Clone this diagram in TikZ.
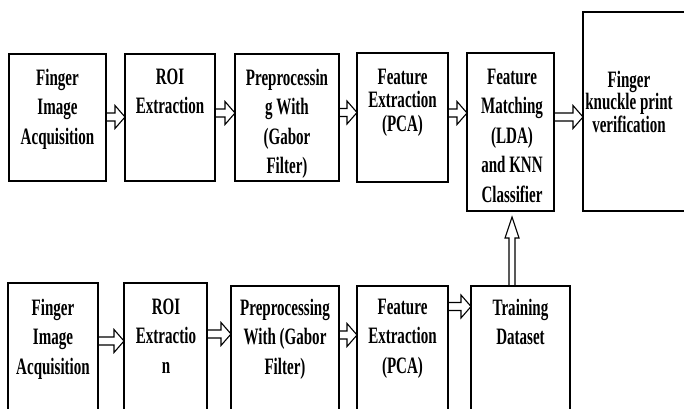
\documentclass[tikz,border=0pt]{standalone}
\usepackage{fontspec}
\newfontfamily\boxfont{Liberation Serif}[FakeStretch=0.64]
\usetikzlibrary{calc}
\tikzset{
  box/.style={draw, line width=1.2pt, inner sep=0pt, outer sep=0pt},
  lbl/.style={align=center, inner sep=0pt, anchor=north,
    font=\boxfont\bfseries\fontsize{23.5}{29.5}\selectfont},
  lbltight/.style={lbl, font=\boxfont\bfseries\fontsize{23.5}{23.5}\selectfont},
  lbltighter/.style={lbl, font=\boxfont\bfseries\fontsize{23.5}{22.5}\selectfont},
  arr/.style={draw, line width=1.1pt, line join=miter},
}
\newcommand\bx[5]{\node[box, minimum width={(#4-#2)*1pt}, minimum height={(#5-#3)*1pt}] (#1) at ({(#2+#4)/2},{408-(#3+#5)/2}) {};}
\newcommand\harr[3]{%
  \draw[arr] let \p1=(#1.east), \p2=(#2.west), \p3=(0,{408-#3}) in
    (\x1,\y3+4pt) -- (\x2-10pt,\y3+4pt) -- (\x2-10pt,\y3+11.5pt) -- (\x2,\y3)
    -- (\x2-10pt,\y3-11.5pt) -- (\x2-10pt,\y3-4pt) -- (\x1,\y3-4pt);}
\newcommand\varr[2]{%
  \draw[arr] let \p1=(#1.north), \p2=(#2.south), \p3=(\x2+1.5pt,0) in
    (\x3-3pt,\y1) -- (\x3-3pt,\y2-27pt) -- (\x3-7pt,\y2-27pt) -- (\x3,\y2-6pt)
    -- (\x3+7pt,\y2-27pt) -- (\x3+3pt,\y2-27pt) -- (\x3+3pt,\y1);}
\begin{document}
\begin{tikzpicture}[x=1pt,y=1pt]
\useasboundingbox (0,0) rectangle (684,408);
\clip (0,0) rectangle (684,408);
\fill[white] (0,0) rectangle (684,408);
% top row
\bx{T1}{9}{54}{106}{181}
\bx{T2}{125}{54}{215}{181}
\bx{T3}{235}{54}{339}{181}
\bx{T4}{357}{53}{448}{182}
\bx{T5}{467}{53}{554}{211}
\bx{T6}{583}{12}{700}{211}
% bottom row
\bx{B1}{8}{283}{98}{425}
\bx{B2}{124}{283}{207}{425}
\bx{B3}{231}{286}{339}{425}
\bx{B4}{357}{286}{448}{425}
\bx{B5}{471}{286}{570}{425}
% labels top
\node[lbl] (T1t) at (57.5,339.5) {Finger\\Image\\Acquisition};
\node[lbl] (T2t) at (170,339.5) {ROI\\Extraction};
\node[lbl] (T3t) at (287,339.5) {Preprocessin\\g With\\(Gabor\\Filter)};
\node[lbltight] (T4t) at (402.5,339.5) {Feature\\Extraction\\(PCA)};
\node[lbl] (T5t) at (512,339.5) {Feature\\Matching\\(LDA)\\and KNN\\Classifier};
\node[lbltighter] (T6t) at (629,337.5) {Finger\\knuckle print\\verification};
% labels bottom
\node[lbl] (B1t) at (53,109.5) {Finger\\Image\\Acquisition};
\node[lbl] (B2t) at (166,109.5) {ROI\\Extractio\\n};
\node[lbl] (B3t) at (285,109.5) {Preprocessing\\With (Gabor\\Filter)};
\node[lbl] (B4t) at (402.5,109.5) {Feature\\Extraction\\(PCA)};
\node[lbl] (B5t) at (520.5,109.5) {Training\\Dataset};
% arrows
\harr{T1}{T2}{117}
\harr{T2}{T3}{113}
\harr{T3}{T4}{112.5}
\harr{T4}{T5}{113}
\harr{T5}{T6}{117}
\harr{B1}{B2}{341}
\harr{B2}{B3}{334}
\harr{B3}{B4}{335}
\harr{B4}{B5}{306.5}
\varr{B5}{T5}
\end{tikzpicture}
\end{document}
